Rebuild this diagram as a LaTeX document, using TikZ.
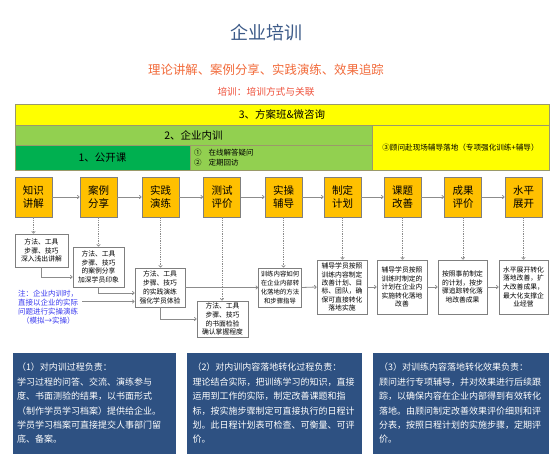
\documentclass[tikz,border=0pt]{standalone}
\usepackage{fontspec}
\setmainfont{Noto Sans CJK SC}
\usetikzlibrary{arrows.meta,calc}
\definecolor{titleblue}{HTML}{3C5A88}
\definecolor{suborange}{HTML}{F26B3B}
\definecolor{subred}{HTML}{EF503A}
\definecolor{noteblue}{HTML}{3B3BF0}
\definecolor{boxblue}{HTML}{2E5182}
\definecolor{yel}{HTML}{FFFF00}
\definecolor{lgreen}{HTML}{92D050}
\definecolor{dgreen}{HTML}{00B050}
\definecolor{orangeF}{HTML}{FFC000}
\definecolor{boxline}{HTML}{7F7F7F}
\definecolor{linegray}{HTML}{8C8C8C}
\definecolor{bandline}{HTML}{9A9A6A}
\begin{document}
\begin{tikzpicture}[x=1pt,y=-1pt,
  band/.style={draw=bandline, line width=0.6pt, inner sep=0pt, align=center, font=\fontsize{10.5}{12}\selectfont},
  flowbox/.style={draw=boxline, fill=orangeF, line width=0.8pt, minimum width=37pt, minimum height=40pt, inner sep=0pt, align=center, font=\fontsize{10.5}{13}\selectfont},
  detail/.style={draw=boxline, fill=white, line width=0.8pt, inner sep=0pt, align=center, font=\fontsize{6.8}{8.8}\selectfont},
  bluebox/.style={fill=boxblue, text=white, inner sep=0pt, minimum height=101pt, align=left, font=\fontsize{9}{14.4}\selectfont},
  conn/.style={draw=linegray, line width=0.8pt, -{To[length=2.5pt,width=4pt]}},
  dconn/.style={conn, dash pattern=on 1.3pt off 1pt}
]
\useasboundingbox (0,0) rectangle (554,462);
\fill[white] (0,0) rectangle (554,462);

% titles
\node[text=titleblue, font=\fontsize{18}{20}\selectfont] (t1) at (266,33) {企业培训};
\node[text=suborange, font=\fontsize{12.4}{14}\selectfont] (t2) at (266,70) {理论讲解、案例分享、实践演练、效果追踪};
\node[text=subred, font=\fontsize{9.7}{11}\selectfont] (t3) at (266,92) {培训：培训方式与关联};

% header bands
\node[band, fill=yel, minimum width=534pt, minimum height=21pt] (h3) at (282,114.5) {3、方案班\&微咨询};
\node[band, fill=lgreen, minimum width=357pt, minimum height=20pt] (h2) at (193.5,135) {2、企业内训};
\node[band, fill=dgreen, minimum width=175pt, minimum height=25pt] (h1) at (102.5,157.5) {1、公开课};
\node[band, fill=lgreen, minimum width=182pt, minimum height=25pt, text width=174pt, align=left, font=\fontsize{7.5}{10}\selectfont] (h1b) at (281,157.5) {①\hspace{7pt}在线解答疑问\\②\hspace{7pt}定期回访};
\node[band, fill=yel, minimum width=177pt, minimum height=45pt, font=\fontsize{7.6}{9}\selectfont] (hr) at (460.5,147.5) {③顾问赴现场辅导落地（专项强化训练+辅导）};

% flow boxes
\node[flowbox] (f1) at (33.5,197) {知识\\讲解};
\node[flowbox] (f2) at (98.5,197) {案例\\分享};
\node[flowbox] (f3) at (160.5,197) {实践\\演练};
\node[flowbox] (f4) at (222,197) {测试\\评价};
\node[flowbox] (f5) at (283.5,197) {实操\\辅导};
\node[flowbox] (f6) at (342.5,197) {制定\\计划};
\node[flowbox] (f7) at (402.5,197) {课题\\改善};
\node[flowbox] (f8) at (463,197) {成果\\评价};
\node[flowbox] (f9) at (523.5,197) {水平\\展开};

\foreach \a/\b in {f1/f2,f2/f3,f3/f4,f4/f5,f5/f6,f6/f7,f7/f8,f8/f9}
  \draw[conn] (\a.east) -- (\b.west);

% detail boxes
\node[detail, minimum width=53pt, minimum height=33pt] (d1) at (41.5,250.5) {方法、工具\\步骤、技巧\\深入浅出讲解};
\node[detail, minimum width=51pt, minimum height=40pt] (d2) at (98.5,267) {方法、工具\\步骤、技巧\\的案例分享\\加深学员印象};
\node[detail, minimum width=50pt, minimum height=39pt] (d3) at (160,287.5) {方法、工具\\步骤、技巧\\的实践演练\\强化学员体验};
\node[detail, minimum width=51pt, minimum height=36pt] (d4) at (222.5,319) {方法、工具\\步骤、技巧\\的书面检验\\确认掌握程度};
\node[detail, minimum width=43pt, minimum height=39pt, font=\fontsize{6.4}{8.8}\selectfont] (d5) at (280,287.5) {训练内容如何\\在企业内部转\\化落地的方法\\和步骤指导};
\node[detail, minimum width=50pt, minimum height=54pt, font=\fontsize{6.8}{8.4}\selectfont] (d6) at (342,287) {辅导学员按照\\训练内容制定\\改善计划、目\\标、团队，确\\保可直接转化\\落地实施};
\node[detail, minimum width=50pt, minimum height=54pt, font=\fontsize{6.8}{8.6}\selectfont] (d7) at (402,287) {辅导学员按照\\训练时制定的\\计划在企业内\\实施转化落地\\改善};
\node[detail, minimum width=49pt, minimum height=54pt, font=\fontsize{6.8}{8.6}\selectfont] (d8) at (462.5,287) {按照事前制定\\的计划，按步\\骤追踪转化落\\地改善成果};
\node[detail, minimum width=49pt, minimum height=54pt, font=\fontsize{6.8}{8.6}\selectfont] (d9) at (523.5,287) {水平展开转化\\落地改善，扩\\大改善成果，\\最大化支撑企\\业经营};

% dashed drops
\foreach \i in {1,...,9}
  \draw[dconn] (f\i.south) -- (f\i.south |- d\i.north);

% note
\node[text=noteblue, align=left, inner sep=0pt, font=\fontsize{7.5}{9}\selectfont] (note) at (48,307.5) {注：企业内训时，\\直接以企业的实际\\问题进行实操演练\\\hspace{4pt}（模拟→实操）};

% elbow connectors
\coordinate (c2) at ($(d2.west)+(0,10)$);
\coordinate (c3a) at ($(d3.west)+(0,5.5)$);
\coordinate (c3b) at ($(d3.west)+(0,14)$);
\draw[conn] (d1.south) |- (c2);
\draw[conn] (d2.south) |- (c3a);
\draw[conn] ($(note.east |- c3b)+(4,0)$) -- (c3b);
\draw[conn] (d3.south) |- (d4.west);
\draw[conn] (d3.east) -- (d5.west);
\draw[conn] (d5.east) -- (d6.west);
\draw[conn] (d6.east) -- (d7.west);
\draw[conn] (d7.east) -- (d8.west);
\draw[conn] (d8.east) -- (d9.west);

% blue boxes
\node[bluebox, minimum width=163pt, text width=155pt] (b1) at (94.5,403.5) {（1）对内训过程负责：\\学习过程的问答、交流、演练参与\\度、书面测验的结果，以书面形式\\（制作学员学习档案）提供给企业。\\学员学习档案可直接提交人事部门留\\底、备案。};
\node[bluebox, minimum width=175pt, text width=164pt] (b2) at (274.5,403.5) {（2）对内训内容落地转化过程负责：\\理论结合实际，把训练学习的知识，直接\\运用到工作的实际，制定改善课题和指\\标，按实施步骤制定可直接执行的日程计\\划。此日程计划表可检查、可衡量、可评\\价。};
\node[bluebox, minimum width=176pt, text width=164pt] (b3) at (461,403.5) {（3）对训练内容落地转化效果负责：\\顾问进行专项辅导，并对效果进行后续跟\\踪，以确保内容在企业内部得到有效转化\\落地。由顾问制定改善效果评价细则和评\\分表，按照日程计划的实施步骤，定期评\\价。};
\end{tikzpicture}
\end{document}
